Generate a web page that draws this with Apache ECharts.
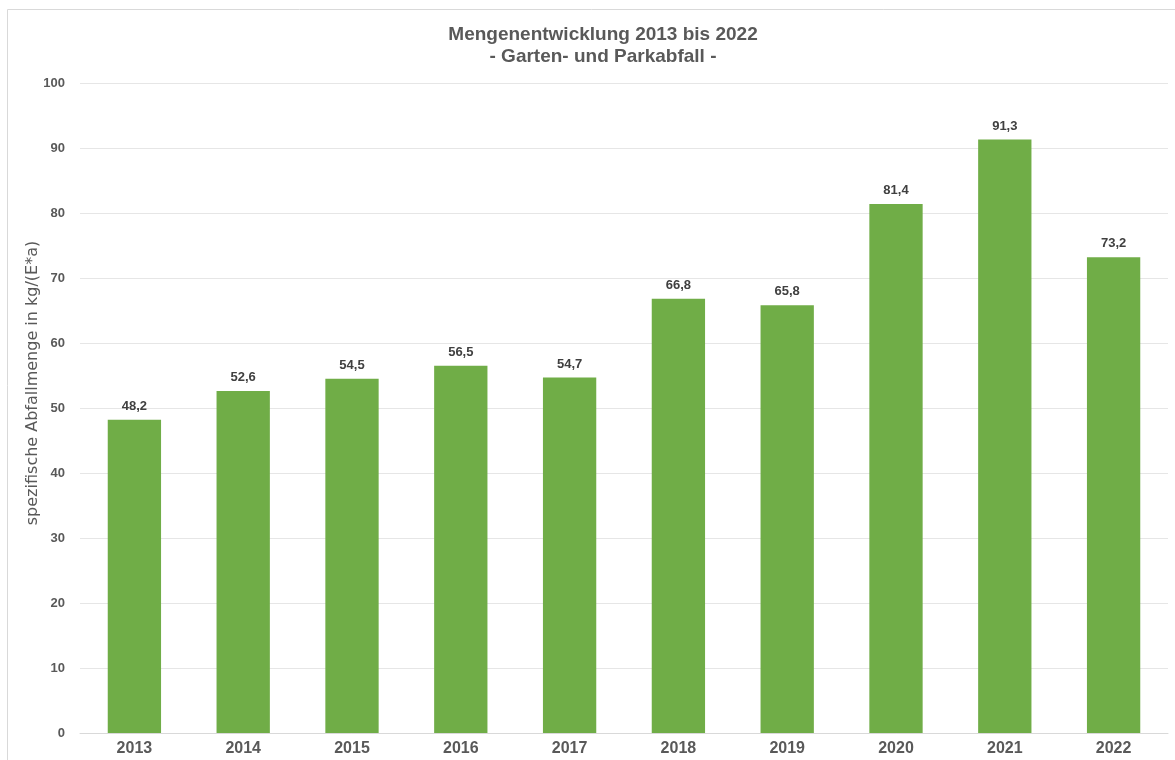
<!DOCTYPE html>
<html>
<head>
<meta charset="utf-8">
<script src="https://cdn.jsdelivr.net/npm/echarts@6/dist/echarts.min.js"></script>
<style>
  html, body { margin: 0; padding: 0; background: #fff; }
  #chart { width: 1175px; height: 760px; }
</style>
</head>
<body>
<div id="chart"></div>
<script>
const years = ["2013", "2014", "2015", "2016", "2017", "2018", "2019", "2020", "2021", "2022"];
const amounts = [48.2, 52.6, 54.5, 56.5, 54.7, 66.8, 65.8, 81.4, 91.3, 73.2];
const yTicks = [0, 10, 20, 30, 40, 50, 60, 70, 80, 90, 100];

const font = "Liberation Sans, Arial, sans-serif";

function formatDe(value) {
  return value.toFixed(1).replace(".", ",");
}

const chart = echarts.init(document.getElementById("chart"));
chart.setOption({
  animation: false,
  graphic: [
    {
      type: "rect",
      shape: { x: 7.5, y: 9.5, width: 1200, height: 800 },
      style: { fill: "none", stroke: "#d9d9d9", lineWidth: 1 },
      silent: true,
    },
  ],
  title: {
    text: "Mengenentwicklung 2013 bis 2022\n- Garten- und Parkabfall -",
    left: 598,
    textAlign: "center",
    top: 19,
    textStyle: {
      fontFamily: font,
      fontSize: 19,
      fontWeight: "bold",
      color: "#595959",
      lineHeight: 22,
    },
  },
  grid: { left: 80, right: 7, top: 83, bottom: 27 },
  xAxis: {
    type: "category",
    data: years,
    axisTick: { show: false },
    axisLine: { lineStyle: { color: "#d9d9d9" } },
    axisLabel: {
      fontFamily: font,
      fontSize: 16,
      fontWeight: "bold",
      color: "#595959",
      margin: 8,
    },
  },
  yAxis: {
    type: "value",
    min: yTicks[0],
    max: yTicks[yTicks.length - 1],
    interval: 10,
    name: "spezifische Abfallmenge in kg/(E*a)",
    nameLocation: "middle",
    nameMoveOverlap: false,
    nameGap: 39,
    nameTextStyle: {
      fontFamily: "DejaVu Sans, sans-serif",
      fontSize: 16,
      color: "#595959",
      padding: [0, 0, 0, 50],
    },
    axisLine: { show: false },
    axisTick: { show: false },
    axisLabel: {
      fontFamily: font,
      fontSize: 13,
      fontWeight: "bold",
      color: "#595959",
      margin: 15,
    },
    splitLine: { lineStyle: { color: "#e6e6e6" } },
  },
  series: [
    {
      type: "bar",
      data: amounts,
      barWidth: "49%",
      itemStyle: { color: "#70ad47" },
      label: {
        show: true,
        position: "top",
        distance: 7,
        fontFamily: font,
        fontSize: 13,
        fontWeight: "bold",
        color: "#404040",
        formatter: (p) => formatDe(p.value),
      },
    },
  ],
});
</script>
</body>
</html>
